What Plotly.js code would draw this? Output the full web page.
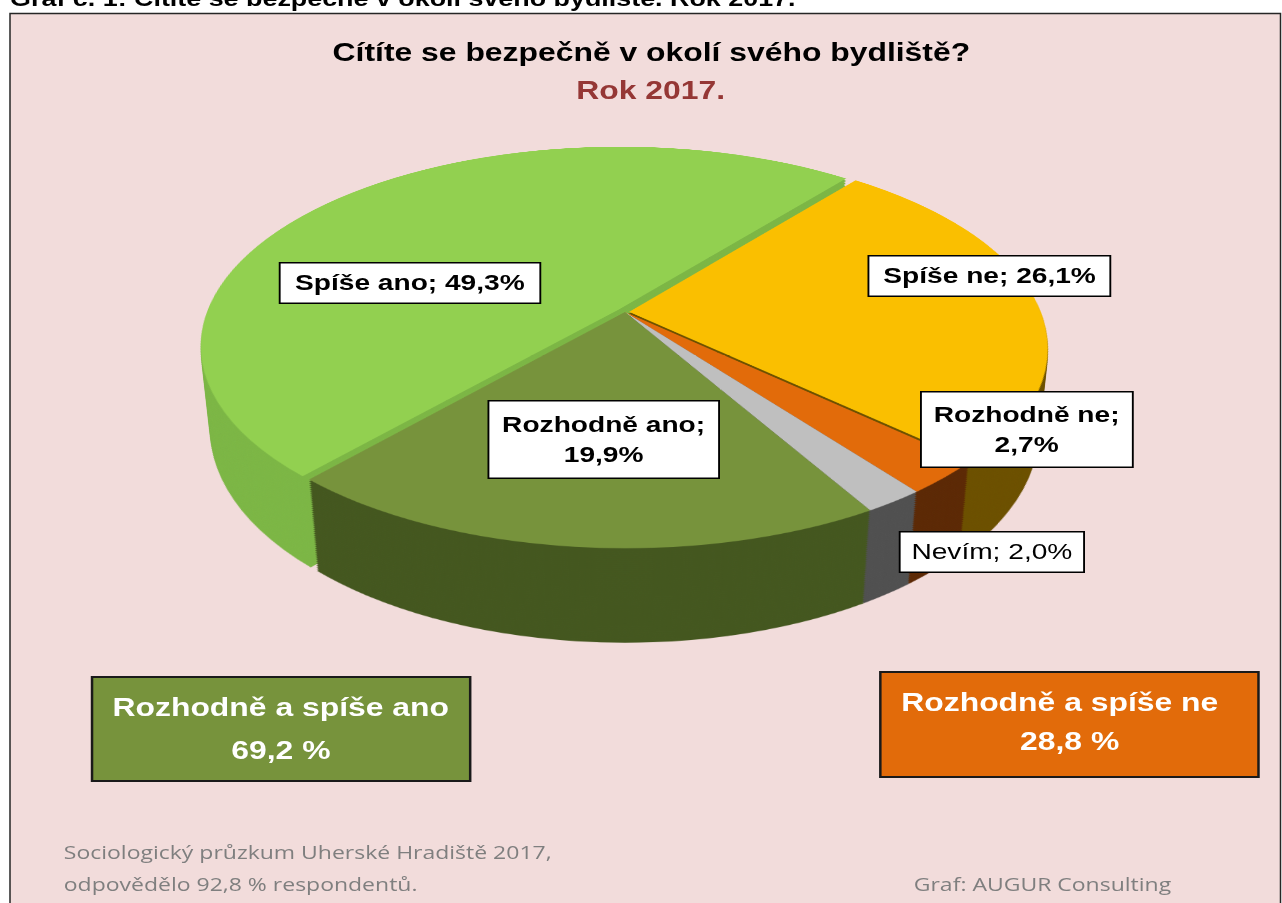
<!DOCTYPE html>
<html><head><meta charset="utf-8">
<script src="https://cdn.plot.ly/plotly-3.0.1.min.js"></script>
<style>
html,body{margin:0;padding:0;background:#fff;overflow:hidden;width:1282px;height:903px;}
#bg,#pie{position:absolute;left:0;top:0;width:1282px;height:903px;}
#top{position:absolute;left:0;top:0;height:903px;transform-origin:0 0;}
.layer{position:absolute;width:840px;height:840px;left:205px;top:-108px;transform-origin:50% 50%;}
</style></head><body>
<div id="bg"></div>
<div id="pie"></div>
<div id="top"></div>
<script>
// ---- data ----
const categories = ['Spíše ne', 'Rozhodně ne', 'Nevím', 'Rozhodně ano', 'Spíše ano'];
const values = [26.1, 2.7, 2.0, 19.9, 49.3];
const labelBreak = [false, true, false, true, false];
const labelBold = [true, true, false, true, true];
const topColors = ['#FABF00', '#E26B0A', '#BFBFBF', '#77933C', '#92D050'];
const sideColors = ['#6C5000', '#5C2905', '#505050', '#44571F', '#7CB645'];
const pulls = [0.01, 0, 0, 0, 0.02];
const summaryLabels = ['Rozhodně a spíše ano', 'Rozhodně a spíše ne'];
const summaryGroups = [[3, 4], [0, 1]];
const titleText = 'Cítíte se bezpečně v okolí svého bydliště?';
const subtitleText = 'Rok 2017.';
const captionText = 'Graf č. 1: Cítíte se bezpečně v okolí svého bydliště. Rok 2017.';
const footerLines = ['Sociologický průzkum Uherské Hradiště 2017,', 'odpovědělo 92,8 % respondentů.'];
const creditText = 'Graf: AUGUR Consulting';

const fmt = v => v.toFixed(1).replace('.', ',');
const FONT = 'Liberation Sans, Arial, sans-serif';
const FOOT = 'Open Sans, sans-serif';
const SX = 1.25; // horizontal stretch of the text layer

// ---- background frame ----
Plotly.newPlot('bg', [], {
  width: 1282, height: 903, margin: {l: 0, r: 0, t: 0, b: 0},
  paper_bgcolor: '#FFFFFF', plot_bgcolor: 'rgba(0,0,0,0)', showlegend: false,
  xaxis: {range: [0, 1282], visible: false, fixedrange: true},
  yaxis: {range: [903, 0], visible: false, fixedrange: true},
  shapes: [{type: 'rect', xref: 'x', yref: 'y', x0: 10, x1: 1280.5, y0: 13.5, y1: 912,
            fillcolor: '#F2DCDB', line: {color: '#262626', width: 1.5}}]
}, {staticPlot: true});

// ---- 3D pie as stacked layers ----
const T = 96, N = 48, PERSP = 2000, TILT = 62;
const pieHost = document.getElementById('pie');
for (let k = N; k >= 0; k--) {
  const d = document.createElement('div');
  d.className = 'layer';
  d.style.transform = `perspective(${PERSP}px) rotateX(${TILT}deg) translateZ(${-k * T / N}px)`;
  pieHost.appendChild(d);
  Plotly.newPlot(d, [{
    type: 'pie', labels: categories, values: values, sort: false,
    direction: 'clockwise', rotation: 39, pull: pulls,
    marker: {colors: k === 0 ? topColors : sideColors, line: {width: 0}},
    textinfo: 'none', hoverinfo: 'skip', showlegend: false
  }], {
    width: 840, height: 840, margin: {l: 0, r: 0, t: 0, b: 0},
    paper_bgcolor: 'rgba(0,0,0,0)', plot_bgcolor: 'rgba(0,0,0,0)', showlegend: false
  }, {staticPlot: true});
}

// ---- texts (layer stretched horizontally by SX; x given in page px) ----
const labelBoxes = [ // [cx, cy, w, h] in page px
  [989, 276, 242, 41],
  [1026, 429, 211, 76],
  [991, 552, 184, 41],
  [603, 439, 230, 78],
  [410, 283, 260, 41]
];
const ann = [];
ann.push({x: 8, y: 1 + 0.5 / 903, xref: 'x', yref: 'paper', xanchor: 'left', yanchor: 'middle', showarrow: false,
  text: captionText, font: {family: FONT, size: 21.5, color: '#000', weight: 'bold'}});
ann.push({x: 651, y: 52, xref: 'x', yref: 'y', xanchor: 'center', yanchor: 'middle', showarrow: false,
  text: titleText, font: {family: FONT, size: 25.5, color: '#000', weight: 'bold'}});
ann.push({x: 650, y: 90, xref: 'x', yref: 'y', xanchor: 'center', yanchor: 'middle', showarrow: false,
  text: subtitleText, font: {family: FONT, size: 25.5, color: '#953735', weight: 'bold'}});
categories.forEach((c, i) => {
  const b = labelBoxes[i];
  ann.push({x: b[0], y: b[1], xref: 'x', yref: 'y', xanchor: 'center', yanchor: 'middle', showarrow: false,
    text: c + ';' + (labelBreak[i] ? '<br>' : ' ') + fmt(values[i]) + '%',
    width: (b[2] - 4) / SX, height: b[3] - 4, borderpad: 1, align: 'center', valign: 'middle',
    bgcolor: '#FFFFFF', bordercolor: '#000000', borderwidth: 1.5,
    font: {family: FONT, size: 22.5, color: '#000', weight: labelBold[i] ? 'bold' : 'normal'}});
});
const sumBoxes = [[92, 470, 677, 781, 281, 707, 750], [880, 1258, 672, 777, 1060, 702, 741]];
const sumFills = [topColors[3], topColors[1]];
const shapes = [];
summaryLabels.forEach((s, i) => {
  const b = sumBoxes[i];
  const total = summaryGroups[i].reduce((a, j) => a + values[j], 0);
  shapes.push({type: 'rect', xref: 'x', yref: 'y', x0: b[0], x1: b[1], y0: b[2], y1: b[3],
    fillcolor: sumFills[i], line: {color: '#1a1a1a', width: 2}});
  ann.push({x: b[4], y: b[5], xref: 'x', yref: 'y', xanchor: 'center', yanchor: 'middle', showarrow: false,
    text: s, font: {family: FONT, size: 25.5, color: '#FFFFFF', weight: 'bold'}});
  ann.push({x: (b[0] + b[1]) / 2, y: b[6], xref: 'x', yref: 'y', xanchor: 'center', yanchor: 'middle', showarrow: false,
    text: fmt(total) + ' %', font: {family: FONT, size: 25.5, color: '#FFFFFF', weight: 'bold'}});
});
footerLines.forEach((t, i) => {
  ann.push({x: 61, y: 851 + i * 32, xref: 'x', yref: 'y', xanchor: 'left', yanchor: 'middle', showarrow: false,
    text: t, font: {family: FOOT, size: 18.4, color: '#7F7F7F'}});
});
ann.push({x: 911, y: 883, xref: 'x', yref: 'y', xanchor: 'left', yanchor: 'middle', showarrow: false,
  text: creditText, font: {family: FOOT, size: 18.4, color: '#7F7F7F'}});

const topDiv = document.getElementById('top');
topDiv.style.width = (1282 / SX) + 'px';
topDiv.style.transform = `scaleX(${SX})`;
Plotly.newPlot('top', [], {
  width: 1282 / SX, height: 903, margin: {l: 0, r: 0, t: 0, b: 0},
  paper_bgcolor: 'rgba(0,0,0,0)', plot_bgcolor: 'rgba(0,0,0,0)', showlegend: false,
  xaxis: {range: [0, 1282], visible: false, fixedrange: true},
  yaxis: {range: [903, 0], visible: false, fixedrange: true},
  shapes: shapes, annotations: ann
}, {staticPlot: true});
</script>
</body></html>
